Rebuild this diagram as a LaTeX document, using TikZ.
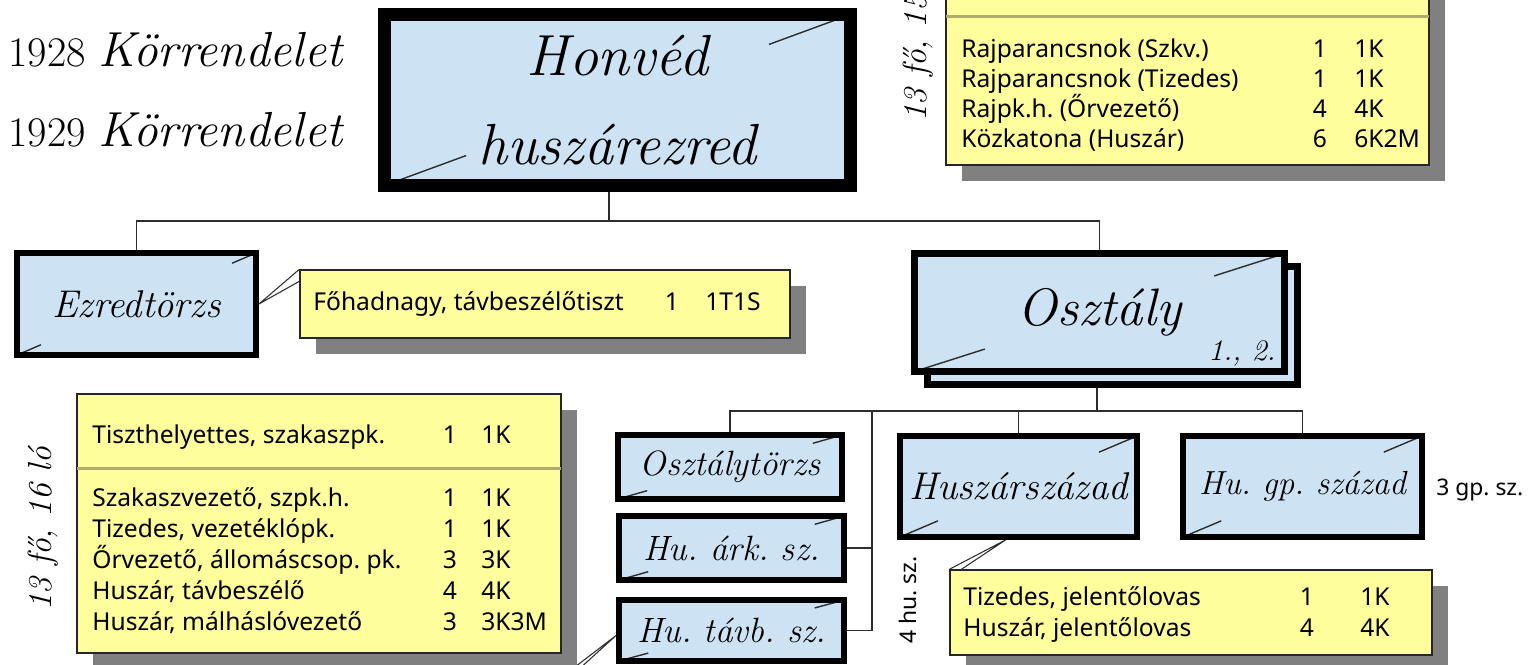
\documentclass[tikz,border=0pt]{standalone}
\usepackage{fontspec}
\newfontfamily\tabfont{Noto Sans}
\usetikzlibrary{calc,shadows}

\definecolor{unitblue}{RGB}{205,227,243}
\definecolor{noteyellow}{RGB}{255,254,156}
\definecolor{shadowgray}{RGB}{128,128,128}
\definecolor{sepline}{RGB}{175,172,110}
\definecolor{linegray}{RGB}{45,45,45}

\tikzset{
  ticks/.style={path picture={
      \draw[line width=0.8pt,linegray] (path picture bounding box.north east)
        -- ($(path picture bounding box.north east)!#1!(path picture bounding box.center)$);
      \draw[line width=0.8pt,linegray] (path picture bounding box.south west)
        -- ($(path picture bounding box.south west)!#1!(path picture bounding box.center)$);
    }},
  ticks/.default=0.3,
  unitbox/.style={draw=black, line width=3.4pt, fill=unitblue, inner sep=0pt,
    font=\fontsize{20}{24}\selectfont\itshape},
  notebox/.style={draw=black!85, line width=0.8pt, fill=noteyellow, inner sep=0pt,
    drop shadow={shadow xshift=9pt, shadow yshift=-9pt, fill=shadowgray, opacity=1}},
  rowtext/.style={font=\tabfont\fontsize{14}{17}\selectfont, inner sep=0pt},
  sidetext/.style={font=\tabfont\fontsize{13}{16}\selectfont, inner sep=0pt},
  strength/.style={font=\fontsize{19}{23}\selectfont\itshape, rotate=90, inner sep=0pt},
  conn/.style={linegray, line width=0.9pt},
  wedge/.style={linegray, line width=0.6pt},
}

\begin{document}
\frenchspacing
\begin{tikzpicture}[x=0.02cm,y=-0.02cm]
  \useasboundingbox (0,0) rectangle (1533,665);
  \clip (0,0) rectangle (1533,665);

  % Orders
  \node[anchor=base west, inner sep=0pt] (kr1928) at (8,67)
    {\fontsize{24}{28}\selectfont 1928 \fontsize{28}{32}\selectfont\itshape Körrendelet};
  \node[anchor=base west, inner sep=0pt] (kr1929) at (8,147)
    {\fontsize{24}{28}\selectfont 1929 \fontsize{28}{32}\selectfont\itshape Körrendelet};

  % Regiment
  \node[unitbox, ticks=0.35, line width=7.4pt, minimum width=9.32cm, minimum height=3.42cm,
    align=center, font=\fontsize{33}{51}\selectfont\itshape] (hq) at (617.5,100) {Honvéd\\huszárezred};

  % Regimental staff
  \node[unitbox, ticks=0.2, minimum width=4.78cm, minimum height=2.04cm,
    font=\fontsize{22}{26}\selectfont\itshape] (ezr) at (136.5,304) {Ezredtörzs};
  \node[notebox, minimum width=9.8cm, minimum height=1.36cm] (fohad) at (545,304) {};
  \node[rowtext, anchor=base west] (fohad-n) at (313,310) {Főhadnagy, távbeszélőtiszt};
  \node[rowtext, anchor=base] (fohad-d) at (672,310) {1};
  \node[rowtext, anchor=base west] (fohad-c) at (705,310) {1T1S};
  \draw[wedge] (fohad.north west) -- (ezr.east) -- ($(fohad.north west)+(0,12)$);

  % Division
  \node[unitbox, line width=4pt, minimum width=7.4cm, minimum height=2.36cm] (osztback) at (1112.5,325.5) {};
  \node[unitbox, ticks=0.38, line width=4pt, minimum width=7.4cm, minimum height=2.36cm,
    font=\fontsize{30}{36}\selectfont\itshape] (oszt) at (1099.5,312.5) {\raisebox{6pt}{Osztály}};
  \node[font=\fontsize{17}{20}\selectfont\itshape, anchor=base east, inner sep=0pt] (osztnum) at (1276,360) {1., 2.};

  % Squadrons
  \node[unitbox, ticks=0.26, minimum width=4.48cm, minimum height=1.28cm] (otorzs) at (730,467) {Osztálytörzs};
  \node[unitbox, ticks=0.26, minimum width=4.5cm, minimum height=1.28cm] (arksz) at (731.5,548) {Hu. árk. sz.};
  \node[unitbox, ticks=0.26, minimum width=4.5cm, minimum height=1.22cm] (tavb) at (731.5,630.5) {Hu. távb. sz.};
  \node[unitbox, ticks=0.32, minimum width=4.74cm, minimum height=2.02cm,
    font=\fontsize{22}{26}\selectfont\itshape] (hszd) at (1018.5,486.5) {Huszárszázad};
  \node[unitbox, ticks=0.32, minimum width=4.78cm, minimum height=2.02cm,
    font=\fontsize{19}{23}\selectfont\itshape] (gpszd) at (1302.5,486.5) {Hu. gp. század};
  \node[sidetext, rotate=90] (hszdnum) at (908,600) {4 hu. sz.};
  \node[sidetext, anchor=west] (gpszdnum) at (1436,490) {3 gp. sz.};

  % Squad table
  \node[notebox, minimum width=9.66cm, minimum height=4.46cm] (rajbox) at (1187.5,53.5) {};
  \draw[sepline, line width=1.6pt] ($(rajbox.north west)+(1,75)$) -- ($(rajbox.north east)+(-1,75)$);
  \foreach \name/\num/\code [count=\i] in {Rajparancsnok (Szkv.)/1/1K, Rajparancsnok (Tizedes)/1/1K,
      Rajpk.h. (Őrvezető)/4/4K, Közkatona (Huszár)/6/6K2M}
  {
    \pgfmathsetmacro{\y}{58+30*(\i-1)}
    \node[rowtext, anchor=base west] (raj-n-\i) at (961,\y) {\name};
    \node[rowtext, anchor=base] (raj-d-\i) at (1320,\y) {\num};
    \node[rowtext, anchor=base west] (raj-c-\i) at (1354,\y) {\code};
  }
  \node[strength] (rajsum) at (918,40) {13 fő, 15 ló};

  % Platoon table
  \node[notebox, minimum width=9.68cm, minimum height=5.18cm] (szakbox) at (319,523.5) {};
  \draw[sepline, line width=1.6pt] ($(szakbox.north west)+(1,75)$) -- ($(szakbox.north east)+(-1,75)$);
  \node[rowtext, anchor=base west] (szak-n-0) at (92,443) {Tiszthelyettes, szakaszpk.};
  \node[rowtext, anchor=base] (szak-d-0) at (450,443) {1};
  \node[rowtext, anchor=base west] (szak-c-0) at (481,443) {1K};
  \foreach \name/\num/\code [count=\i] in {{Szakaszvezető, szpk.h.}/1/1K, {Tizedes, vezetéklópk.}/1/1K,
      {Őrvezető, állomáscsop. pk.}/3/3K, {Huszár, távbeszélő}/4/4K, {Huszár, málháslóvezető}/3/3K3M}
  {
    \pgfmathsetmacro{\y}{506+31*(\i-1)}
    \node[rowtext, anchor=base west] (szak-n-\i) at (92,\y) {\name};
    \node[rowtext, anchor=base] (szak-d-\i) at (450,\y) {\num};
    \node[rowtext, anchor=base west] (szak-c-\i) at (481,\y) {\code};
  }
  \node[strength] (szaksum) at (43,529) {13 fő, 16 ló};

  % Messengers
  \node[notebox, minimum width=9.64cm, minimum height=1.7cm] (jelbox) at (1191,612.5) {};
  \foreach \name/\num/\code [count=\i] in {{Tizedes, jelentőlovas}/1/1K, {Huszár, jelentőlovas}/4/4K}
  {
    \pgfmathsetmacro{\y}{605+31*(\i-1)}
    \node[rowtext, anchor=base west] (jel-n-\i) at (963,\y) {\name};
    \node[rowtext, anchor=base] (jel-d-\i) at (1307,\y) {\num};
    \node[rowtext, anchor=base west] (jel-c-\i) at (1360,\y) {\code};
  }
  \draw[wedge] (jelbox.north west) -- ($(hszd.south)+(-13,0)$) -- ($(jelbox.north west)+(12,0)$);

  % Connectors
  \coordinate (bus1) at (609,221);
  \draw[conn] (bus1 |- hq.south) -- (bus1);
  \draw[conn] (ezr.north) |- (bus1) -| (oszt.north);
  \coordinate (bus2) at (1097,411);
  \draw[conn] (bus2 |- osztback.south) -- (bus2);
  \draw[conn] (otorzs.north) |- (bus2) -| (gpszd.north);
  \draw[conn] (hszd.north) -- (hszd.north |- bus2);
  \coordinate (bus3) at (872,411);
  \draw[conn] (bus3) |- (tavb.east);
  \draw[conn] (arksz.east) -- (arksz.east -| bus3);
  \coordinate (tavbfoot1) at (558,680);
  \coordinate (tavbfoot2) at (567,680);
  \draw[wedge] (tavbfoot1) -- ($(tavb.west)+(0,5)$) -- (tavbfoot2);
\end{tikzpicture}
\end{document}
